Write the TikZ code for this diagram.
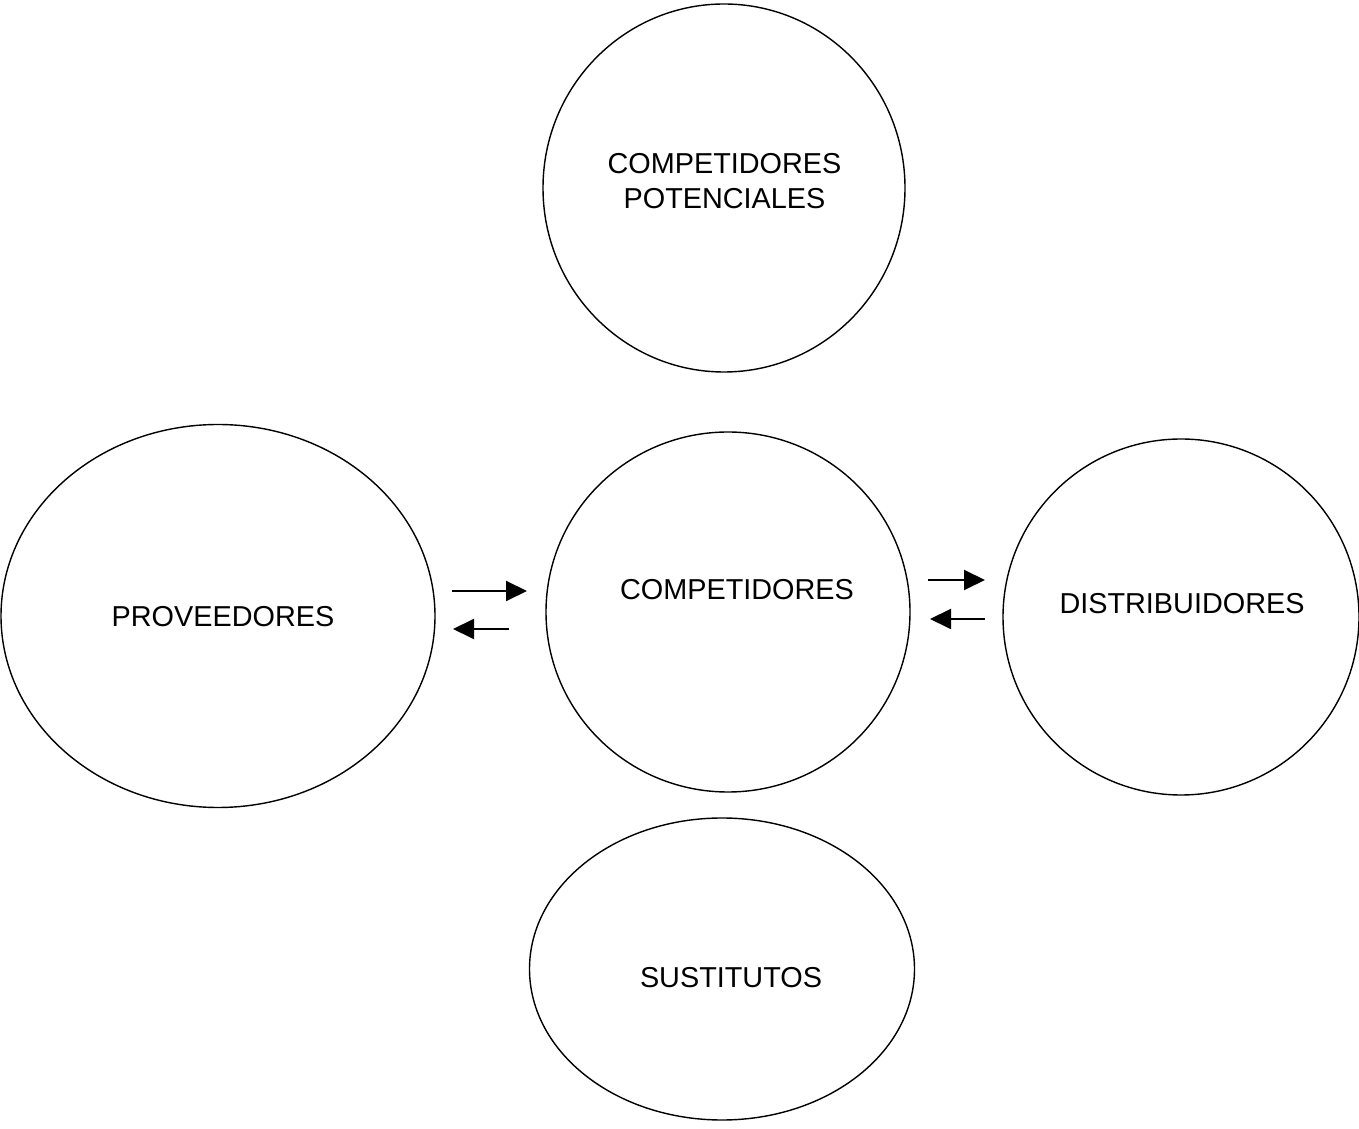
\documentclass[tikz,border=0pt]{standalone}
\usepackage{fontspec}
\setmainfont{Liberation Sans}
\usetikzlibrary{shapes.geometric,arrows.meta}

\tikzset{
  blob/.style={draw,ellipse,inner sep=0pt,line width=0.8pt},
  lbl/.style={font=\fontsize{16.4}{20}\selectfont,align=center,inner sep=0pt},
  flow/.style={line width=1.1pt,-{Triangle[length=0.42cm,width=0.4cm]}}
}

\begin{document}
\begin{tikzpicture}
\useasboundingbox (0,0) rectangle (27.18,22.56);
% circles
\node[blob,minimum width=7.24cm,minimum height=7.36cm] (pot) at (14.48,18.80) {};
\node[blob,minimum width=8.68cm,minimum height=7.66cm] (prov) at (4.36,10.24) {};
\node[blob,minimum width=7.28cm,minimum height=7.20cm] (comp) at (14.56,10.32) {};
\node[blob,minimum width=7.12cm,minimum height=7.12cm] (dist) at (23.62,10.22) {};
\node[blob,minimum width=7.70cm,minimum height=6.04cm] (sust) at (14.44,3.18) {};
% texts
\node[lbl] (potT) at (14.49,18.94) {COMPETIDORES\\POTENCIALES};
\node[lbl] (provT) at (4.46,10.22) {PROVEEDORES};
\node[lbl] (compT) at (14.74,10.76) {COMPETIDORES};
\node[lbl] (distT) at (23.64,10.48) {DISTRIBUIDORES};
\node[lbl] (sustT) at (14.62,3.00) {SUSTITUTOS};
% arrow ends
\coordinate (pc1) at (9.04,10.74);
\coordinate (pc2) at (10.54,10.74);
\coordinate (cp1) at (10.18,9.98);
\coordinate (cp2) at (9.06,9.98);
\coordinate (cd1) at (18.56,10.96);
\coordinate (cd2) at (19.70,10.96);
\coordinate (dc1) at (19.70,10.18);
\coordinate (dc2) at (18.60,10.18);
\draw[flow] (pc1) -- (pc2);
\draw[flow] (cp1) -- (cp2);
\draw[flow] (cd1) -- (cd2);
\draw[flow] (dc1) -- (dc2);
\end{tikzpicture}
\end{document}
